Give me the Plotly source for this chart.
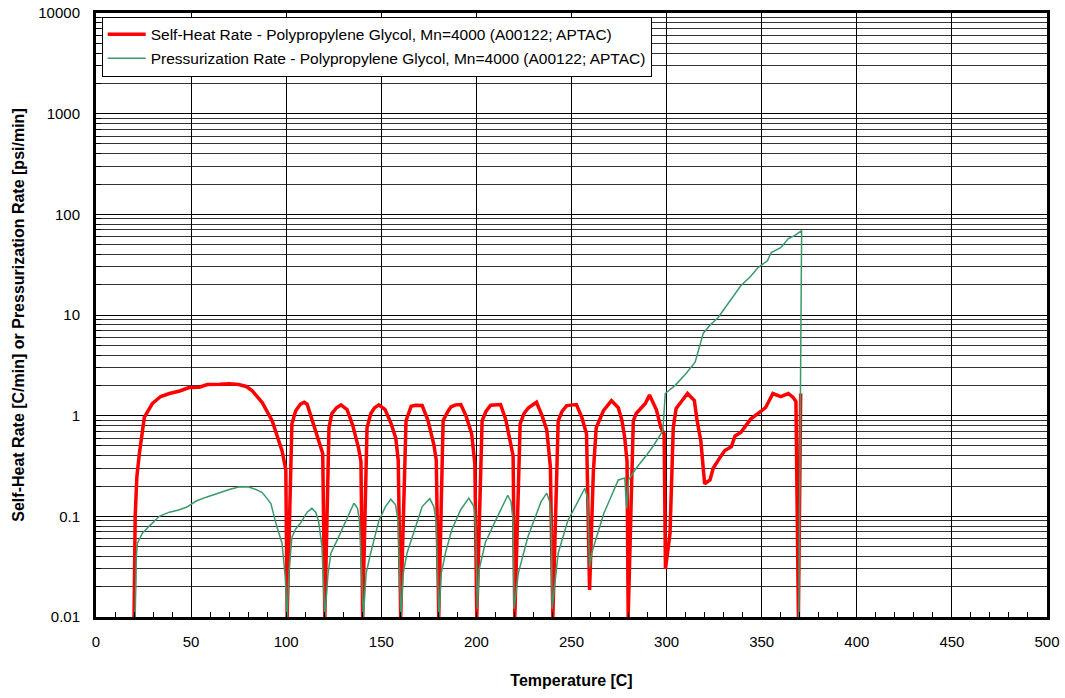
import plotly.graph_objects as go

# Self-heat rate (red)
heat_T = [20, 20.6, 21.5, 22.8, 25.4, 29.6, 34, 38.6, 44, 49, 54.3, 58.5, 65, 70, 75, 79, 82, 87.4, 92.6, 97.8, 99.8,
          100.5, 103, 105, 107.5, 109.5, 111, 113.8, 117, 119.2,
          120.3, 122.5, 124, 126.5, 128.8, 132, 135, 138, 139.3,
          140.2, 142.5, 144.5, 146.5, 148.7, 152, 155, 157.6, 158.9,
          160.2, 163, 165.7, 168, 171.5, 174.5, 177.6, 178.9,
          180.2, 182.5, 185, 186.6, 189, 191.8, 194.5, 197.5, 199.2,
          200.2, 203, 205, 207.5, 212.7, 215.5, 218, 219.3,
          220.2, 223, 225, 227.4, 231.6, 234.5, 237, 238.9,
          240.2, 243, 245, 247.5, 252.6, 255.5, 257.9,
          259.5, 261.5, 263, 266.8, 271, 274.6, 276.5, 278, 279.2,
          279.8, 282.5, 284, 288.8, 291, 294.6, 297, 298.7,
          299.4, 301.8, 303.5, 305, 308, 311, 314.6, 316, 318, 320, 322.8, 324.5, 327.5, 330.6, 334, 336, 339,
          344.3, 348, 352, 355.9, 360, 364, 366.5, 368, 369.3, 370.5]
heat_rate = [0.01, 0.1, 0.25, 0.42, 0.96, 1.32, 1.55, 1.66, 1.76, 1.9, 1.92, 2.04, 2.05, 2.08, 2.04, 1.95, 1.78, 1.35, 0.89, 0.45, 0.29,
             0.01, 0.83, 1.12, 1.3, 1.36, 1.3, 0.89, 0.6, 0.42,
             0.01, 0.76, 1.05, 1.2, 1.28, 1.15, 0.8, 0.48, 0.35,
             0.01, 0.76, 1.05, 1.2, 1.28, 1.15, 0.85, 0.6, 0.36,
             0.01, 0.89, 1.24, 1.27, 1.26, 0.9, 0.52, 0.36,
             0.01, 0.89, 1.1, 1.22, 1.28, 1.29, 1.0, 0.66, 0.33,
             0.01, 0.89, 1.1, 1.27, 1.29, 0.9, 0.55, 0.4,
             0.01, 0.83, 1.05, 1.2, 1.36, 1.0, 0.72, 0.31,
             0.01, 0.89, 1.1, 1.26, 1.29, 0.95, 0.66,
             0.0186, 0.28, 0.76, 1.12, 1.41, 1.2, 0.9, 0.6, 0.35,
             0.01, 0.89, 1.05, 1.32, 1.6, 1.15, 0.76, 0.66,
             0.03, 0.068, 0.76, 1.18, 1.4, 1.66, 1.41, 0.9, 0.56, 0.21, 0.23, 0.30, 0.37, 0.45, 0.49, 0.63, 0.68,
             0.93, 1.05, 1.2, 1.66, 1.55, 1.66, 1.52, 1.38, 0.01, 1.66]

# Pressurization rate (green)
press_T = [20.6, 21.2, 21.8, 24.4, 28, 33.3, 38.6, 43, 47.5, 52.7, 58, 64.8, 70, 75, 80, 84, 87.4, 90, 92, 95, 97.8, 99.5,
           100.5, 101.5, 103, 105, 107.8, 111, 113.5, 115.5, 117, 118.8,
           120.3, 122, 123.5, 126.8, 131.4, 135.6, 137.5, 138.5,
           140.6, 142, 144.4, 148.7, 152.2, 155, 157.5, 158.8,
           160.3, 161.5, 163.5, 168, 171.5, 175.5, 177.6, 178.8,
           180.3, 181.5, 183.7, 187, 191.6, 196, 198.7, 199.6,
           200.5, 201.5, 204.7, 210, 216.5, 218.2, 219.3,
           219.8, 222, 227, 231, 234, 237, 238.5, 239.4,
           239.8, 243, 248, 253.7, 257, 258.5,
           259.5, 260.6, 264, 267, 271, 274.6, 278, 279, 280, 284, 288.8, 293, 297, 298,
           299.3, 304.5, 310, 315, 319.3, 323, 327, 333, 339, 344, 348, 353, 355, 360, 364, 367.5, 371, 369.5]
press_rate = [0.01, 0.04, 0.054, 0.068, 0.08, 0.1, 0.11, 0.115, 0.123, 0.142, 0.155, 0.172, 0.185, 0.196, 0.197, 0.185, 0.172, 0.15, 0.133, 0.08, 0.054, 0.025,
              0.01, 0.029, 0.062, 0.075, 0.087, 0.11, 0.12, 0.11, 0.09, 0.05,
              0.01, 0.027, 0.043, 0.058, 0.09, 0.135, 0.12, 0.09,
              0.01, 0.027, 0.043, 0.09, 0.125, 0.148, 0.13, 0.09,
              0.01, 0.027, 0.043, 0.08, 0.125, 0.15, 0.125, 0.09,
              0.01, 0.027, 0.043, 0.073, 0.115, 0.152, 0.125, 0.08,
              0.012, 0.03, 0.055, 0.09, 0.162, 0.14, 0.09,
              0.012, 0.027, 0.062, 0.1, 0.14, 0.17, 0.14, 0.08,
              0.012, 0.043, 0.09, 0.144, 0.19, 0.15,
              0.031, 0.043, 0.07, 0.107, 0.16, 0.23, 0.24, 0.12, 0.23, 0.3, 0.39, 0.5, 0.66, 0.71,
              1.66, 2.0, 2.6, 3.4, 6.6, 8.0, 9.4, 13.5, 19.5, 24, 29.5, 34.6, 41.7, 46.7, 57.5, 61.7, 69, 0.01]

y_tickvals = [0.01, 0.1, 1, 10, 100, 1000, 10000]
y_ticktext = ["0.01", "0.1", "1", "10", "100", "1000", "10000"]
x_tickvals = [0, 50, 100, 150, 200, 250, 300, 350, 400, 450, 500]

font_family = "Liberation Sans, Arial, sans-serif"

fig = go.Figure()
fig.add_trace(go.Scatter(
    x=heat_T, y=heat_rate, mode="lines", legendgroup="a",
    name="Self-Heat Rate - Polypropylene Glycol, Mn=4000 (A00122; APTAC)",
    line=dict(color="#ff0000", width=3.5)))
fig.add_trace(go.Scatter(
    x=press_T, y=press_rate, mode="lines", legendgroup="b",
    name="Pressurization Rate - Polypropylene Glycol, Mn=4000 (A00122; APTAC)",
    line=dict(color="#3a9a6a", width=1.5)))

fig.update_layout(
    width=1065, height=698,
    margin=dict(l=96, r=18, t=13, b=81),
    paper_bgcolor="white", plot_bgcolor="white",
    font=dict(family=font_family, size=15, color="black"),
    showlegend=True,
    legend=dict(x=0.006, y=0.994, xanchor="left", yanchor="top",
                bgcolor="white", bordercolor="black", borderwidth=1,
                font=dict(size=15.5, family=font_family), tracegroupgap=1,
                traceorder="grouped", itemwidth=38),
)
fig.update_xaxes(
    range=[0, 500], tickvals=x_tickvals, ticktext=[str(v) for v in x_tickvals],
    showgrid=True, gridcolor="black", gridwidth=1,
    showline=True, mirror=True, linecolor="black", linewidth=3,
    ticks="inside", ticklen=5, tickcolor="black", ticklabelstandoff=9,
    minor=dict(dtick=10, ticks="inside", ticklen=5, tickcolor="black", showgrid=False),
    zeroline=False, automargin=False,
    title=dict(text="<b>Temperature [C]</b>", font=dict(size=16), standoff=26),
)
fig.update_yaxes(
    type="log", range=[-2, 4], tickvals=y_tickvals, ticktext=y_ticktext,
    showgrid=True, gridcolor="black", gridwidth=1,
    showline=True, mirror=True, linecolor="black", linewidth=3,
    ticks="inside", ticklen=5, tickcolor="black", ticklabelstandoff=10,
    minor=dict(dtick="D1", showgrid=True, gridcolor="#333333", gridwidth=1,
               ticks="inside", ticklen=5, tickcolor="black"),
    zeroline=False, automargin=False,
    title=dict(text="<b>Self-Heat Rate [C/min] or Pressurization Rate [psi/min]</b>", font=dict(size=16), standoff=10),
)

fig.write_html("out.html")
